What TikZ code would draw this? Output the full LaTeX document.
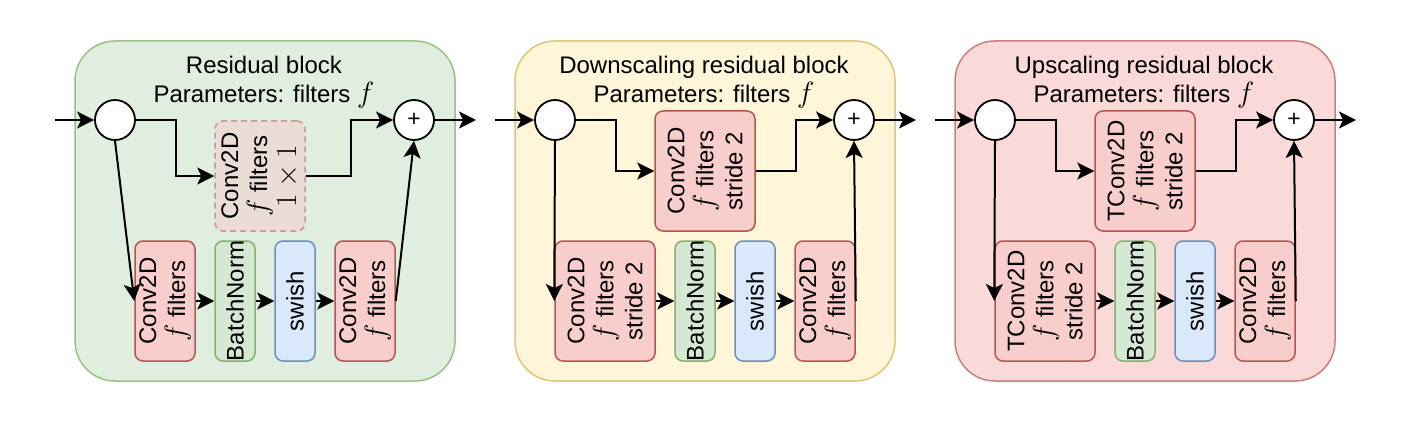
\documentclass[tikz,border=0pt]{standalone}
\usepackage{graphicx}
\usepackage{fontspec}
\setmainfont{Liberation Sans}
\usetikzlibrary{arrows.meta,calc}
\definecolor{gF}{HTML}{D5E8D4}\definecolor{gS}{HTML}{82B366}
\definecolor{yF}{HTML}{FFF2CC}\definecolor{yS}{HTML}{D6B656}
\definecolor{rF}{HTML}{F8CECC}\definecolor{rS}{HTML}{B85450}
\definecolor{bF}{HTML}{DAE8FC}\definecolor{bS}{HTML}{6C8EBF}
\newcommand\mymath[1]{\scalebox{1.18}{$#1$}}
\tikzset{
  blk/.style={rounded corners=40pt, line width=1.5pt, minimum width=380pt, minimum height=340pt, inner sep=0pt, draw},
  box/.style={rounded corners=8pt, line width=1.5pt, inner sep=0pt, draw},
  redbox/.style={box, fill=rF, draw=rS},
  grnbox/.style={box, fill=gF, draw=gS},
  blubox/.style={box, fill=bF, draw=bS},
  dashbox/.style={box, fill=rF, draw=rS, fill opacity=0.5, draw opacity=0.55, dash pattern=on 6pt off 4pt},
  txt/.style={font=\fontsize{24}{29}\selectfont, align=center, inner sep=0pt},
  vtxt/.style={txt, rotate=90},
  arr/.style={line width=2pt, -{Stealth[length=17pt,width=17pt,inset=4pt]}},
  circ/.style={circle, draw, fill=white, line width=1.8pt, minimum size=40pt, inner sep=0pt, font=\fontsize{23}{23}\selectfont},
}
\begin{document}
\begin{tikzpicture}[x=1pt,y=-1pt]
\useasboundingbox (0,0) rectangle (1412,422);

% ---------------- Block 1 ----------------
\node[blk, fill=gF!75!white, draw=gS!80!white] (B1) at (265,211) {};
\node[txt] (T1) at (264,82) {Residual block\\Parameters: filters \mymath{f}};
\node[circ] (s1) at (115,120) {};
\node[circ] (p1) at (414,120) {+};
\coordinate (in1) at (55,120);
\coordinate (out1) at (476,120);
\node[dashbox, minimum width=90pt, minimum height=110pt] (d1) at (260,176) {};
\node[vtxt] (d1t) at (d1) {Conv2D\\\mymath{f} filters\\\mymath{1\times 1}};
\node[redbox, minimum width=60pt, minimum height=120pt] (c1) at (165,301) {};
\node[vtxt] (c1t) at (c1) {Conv2D\\\mymath{f} filters};
\node[grnbox, minimum width=40pt, minimum height=120pt] (bn1) at (235,301) {};
\node[vtxt] (bn1t) at (bn1) {BatchNorm};
\node[blubox, minimum width=40pt, minimum height=120pt] (sw1) at (295,301) {};
\node[vtxt] (sw1t) at (sw1) {swish};
\node[redbox, minimum width=60pt, minimum height=120pt] (c1b) at (365,301) {};
\node[vtxt] (c1bt) at (c1b) {Conv2D\\\mymath{f} filters};
\draw[arr] (in1) -- (s1.west);
\draw[arr] (s1.east) -- ++(40,0) |- (d1.west);
\draw[arr] (d1.east) -- ++(45,0) |- (p1.west);
\draw[arr] (s1.south) -- (c1.west);
\draw[arr] (c1.east) -- (bn1.west);
\draw[arr] (bn1.east) -- (sw1.west);
\draw[arr] (sw1.east) -- (c1b.west);
\draw[arr] (c1b.east) -- (p1.south);
\draw[arr] (p1.east) -- (out1);

% ---------------- Block 2 ----------------
\node[blk, fill=yF!75!white, draw=yS!80!white] (B2) at (705,211) {};
\node[txt] (T2) at (704,82) {Downscaling residual block\\Parameters: filters \mymath{f}};
\node[circ] (s2) at (555,120) {};
\node[circ] (p2) at (854,120) {+};
\coordinate (in2) at (495,120);
\coordinate (out2) at (916,120);
\node[redbox, minimum width=100pt, minimum height=120pt] (t2) at (705,171) {};
\node[vtxt] (t2t) at (t2) {Conv2D\\\mymath{f} filters\\stride 2};
\node[redbox, minimum width=100pt, minimum height=120pt] (c2) at (605,301) {};
\node[vtxt] (c2t) at (c2) {Conv2D\\\mymath{f} filters\\stride 2};
\node[grnbox, minimum width=40pt, minimum height=120pt] (bn2) at (695,301) {};
\node[vtxt] (bn2t) at (bn2) {BatchNorm};
\node[blubox, minimum width=40pt, minimum height=120pt] (sw2) at (755,301) {};
\node[vtxt] (sw2t) at (sw2) {swish};
\node[redbox, minimum width=60pt, minimum height=120pt] (c2b) at (825,301) {};
\node[vtxt] (c2bt) at (c2b) {Conv2D\\\mymath{f} filters};
\draw[arr] (in2) -- (s2.west);
\draw[arr] (s2.east) -- ++(40,0) |- (t2.west);
\draw[arr] (t2.east) -- ++(40,0) |- (p2.west);
\draw[arr] (s2.south) -- (c2.west);
\draw[arr] (c2.east) -- (bn2.west);
\draw[arr] (bn2.east) -- (sw2.west);
\draw[arr] (sw2.east) -- (c2b.west);
\draw[arr] (c2b.east) -- (p2.south);
\draw[arr] (p2.east) -- (out2);

% ---------------- Block 3 ----------------
\node[blk, fill=rF!75!white, draw=rS!75!white] (B3) at (1145,211) {};
\node[txt] (T3) at (1144,82) {Upscaling residual block\\Parameters: filters \mymath{f}};
\node[circ] (s3) at (995,120) {};
\node[circ] (p3) at (1294,120) {+};
\coordinate (in3) at (935,120);
\coordinate (out3) at (1356,120);
\node[redbox, minimum width=100pt, minimum height=120pt] (t3) at (1145,171) {};
\node[vtxt] (t3t) at (t3) {TConv2D\\\mymath{f} filters\\stride 2};
\node[redbox, minimum width=100pt, minimum height=120pt] (c3) at (1045,301) {};
\node[vtxt] (c3t) at (c3) {TConv2D\\\mymath{f} filters\\stride 2};
\node[grnbox, minimum width=40pt, minimum height=120pt] (bn3) at (1135,301) {};
\node[vtxt] (bn3t) at (bn3) {BatchNorm};
\node[blubox, minimum width=40pt, minimum height=120pt] (sw3) at (1195,301) {};
\node[vtxt] (sw3t) at (sw3) {swish};
\node[redbox, minimum width=60pt, minimum height=120pt] (c3b) at (1265,301) {};
\node[vtxt] (c3bt) at (c3b) {Conv2D\\\mymath{f} filters};
\draw[arr] (in3) -- (s3.west);
\draw[arr] (s3.east) -- ++(40,0) |- (t3.west);
\draw[arr] (t3.east) -- ++(40,0) |- (p3.west);
\draw[arr] (s3.south) -- (c3.west);
\draw[arr] (c3.east) -- (bn3.west);
\draw[arr] (bn3.east) -- (sw3.west);
\draw[arr] (sw3.east) -- (c3b.west);
\draw[arr] (c3b.east) -- (p3.south);
\draw[arr] (p3.east) -- (out3);
\end{tikzpicture}
\end{document}
